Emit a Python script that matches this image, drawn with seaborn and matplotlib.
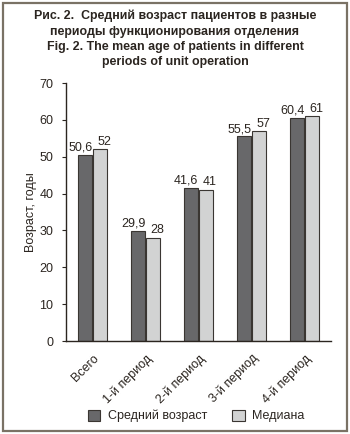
import numpy as np
import pandas as pd
import matplotlib.pyplot as plt
import seaborn as sns
from matplotlib.patches import Rectangle, Patch

sns.set_style('white')
plt.rcParams['font.family'] = ['Liberation Sans', 'DejaVu Sans']

# данные
periods = ['Всего', '1-й период', '2-й период', '3-й период', '4-й период']
mean_age = [50.6, 29.9, 41.6, 55.5, 60.4]
median_age = [52, 28, 41, 57, 61]
series = ['Средний возраст', 'Медиана']

df = pd.DataFrame({
    'Период': periods * 2,
    'Возраст': mean_age + median_age,
    'Показатель': [series[0]] * 5 + [series[1]] * 5,
})

text_col = '#2b2520'
dark = '#68686a'
light = '#d2d3d3'
fs = 9

fig = plt.figure(figsize=(3.5, 4.34), dpi=100)
ax = fig.add_axes([66 / 350, 1 - 341 / 434, 265 / 350, 258 / 434])

sns.barplot(data=df, x='Период', y='Возраст', hue='Показатель',
            palette=[dark, light], width=0.56, gap=0.06, ax=ax,
            edgecolor='#3a3632', linewidth=0.8, legend=False)

# подписи значений (сдвинуты наружу, чтобы не слипались)
for cont, vals, dx in zip(ax.containers, [mean_age, median_age], [-3.5, 3.0]):
    labs = [f'{v:g}'.replace('.', ',') for v in vals]
    anns = ax.bar_label(cont, labels=labs, padding=1, fontsize=fs, color=text_col)
    for a in anns:
        a.xyann = (dx, 1)

ax.set_xlim(-0.5, 4.5)
ax.set_ylim(0, 70)
ax.set_yticks(range(0, 71, 10))
ax.set_xlabel('')
ax.set_ylabel('Возраст, годы', fontsize=fs, color=text_col, labelpad=2)
ax.tick_params(axis='y', length=3, width=0.8, color=text_col, labelsize=fs,
               labelcolor=text_col, left=True, pad=6)
ax.tick_params(axis='x', length=0, labelsize=fs, labelcolor=text_col, pad=8)
for lab in ax.get_xticklabels():
    lab.set_rotation(45)
    lab.set_ha('right')
    lab.set_rotation_mode('anchor')
sns.despine(ax=ax)
for s in ['left', 'bottom']:
    ax.spines[s].set_color(text_col)
    ax.spines[s].set_linewidth(1.0)

# заголовок
fig.text(0.5, 1 - 10 / 434,
         'Рис. 2.  Средний возраст пациентов в разные\n'
         'периоды функционирования отделения\n'
         'Fig. 2. The mean age of patients in different\n'
         'periods of unit operation',
         ha='center', va='top', fontsize=8.9, fontweight='bold',
         color=text_col, linespacing=1.36)

# легенда
handles = [Patch(facecolor=dark, edgecolor='#3a3632', linewidth=0.8),
           Patch(facecolor=light, edgecolor='#3a3632', linewidth=0.8)]
fig.legend(handles, series, loc='center', bbox_to_anchor=(0.56, 1 - 416 / 434),
           ncol=2, frameon=False, fontsize=fs, handlelength=1.0,
           handleheight=1.0, columnspacing=2.0, handletextpad=0.6,
           labelcolor=text_col)

# рамка
fig.patches.append(Rectangle((3 / 350, 3 / 434), 344 / 350, 428 / 434,
                             transform=fig.transFigure, fill=False,
                             edgecolor='#7a7265', linewidth=1.6))

fig.savefig('out.png', dpi=100)
